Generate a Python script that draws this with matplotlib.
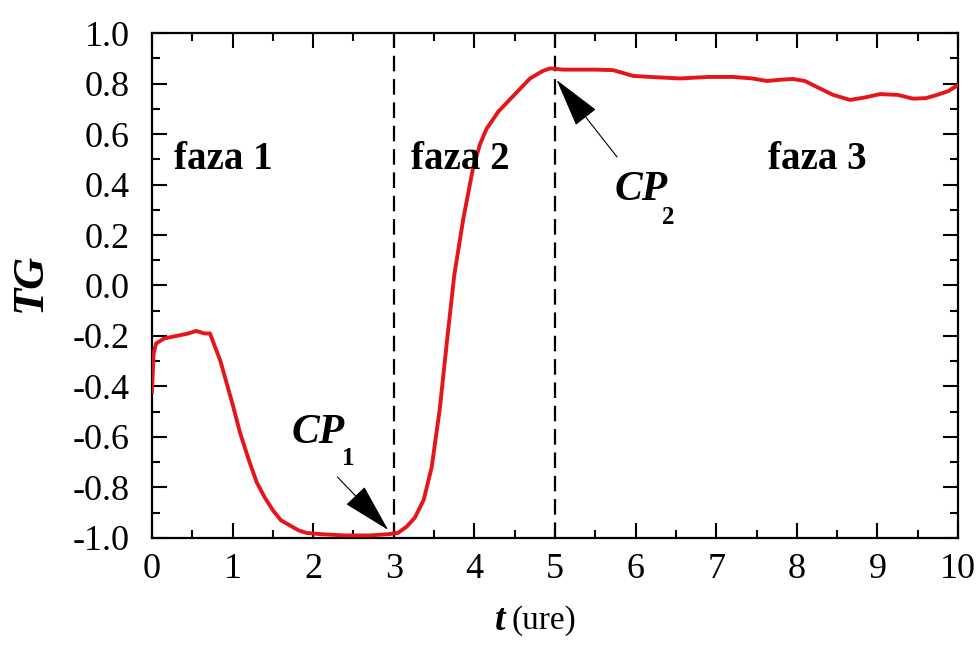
import matplotlib.pyplot as plt
from matplotlib.ticker import MultipleLocator

plt.rcParams['font.family'] = ['Liberation Serif', 'DejaVu Serif']

# TG curve over time (hours)
t_ure = [0.00, 0.02, 0.05, 0.15, 0.30, 0.45, 0.55, 0.65, 0.72, 0.85, 1.00, 1.09, 1.20,
         1.30, 1.40, 1.50, 1.60, 1.71, 1.82, 1.92, 2.10, 2.40, 2.70, 2.93, 3.05,
         3.16, 3.26, 3.37, 3.47, 3.57, 3.66, 3.75, 3.86, 3.98, 4.07, 4.15, 4.30,
         4.48, 4.69, 4.85, 4.94, 5.10, 5.31, 5.50, 5.72, 5.97, 6.18, 6.55, 6.90,
         7.21, 7.45, 7.63, 7.80, 7.95, 8.10, 8.25, 8.45, 8.66, 8.85, 9.03, 9.25,
         9.44, 9.60, 9.74, 9.88, 10.00]
tg = [-0.42, -0.27, -0.23, -0.21, -0.20, -0.19, -0.18, -0.19, -0.19, -0.30, -0.47, -0.58, -0.69,
      -0.78, -0.84, -0.89, -0.93, -0.95, -0.97, -0.98, -0.985, -0.99, -0.99, -0.985, -0.98,
      -0.955, -0.92, -0.85, -0.72, -0.49, -0.22, 0.04, 0.26, 0.46, 0.56, 0.62, 0.69,
      0.75, 0.82, 0.85, 0.86, 0.855, 0.855, 0.855, 0.853, 0.83, 0.826, 0.82, 0.826,
      0.826, 0.82, 0.81, 0.815, 0.818, 0.81, 0.786, 0.755, 0.735, 0.745, 0.758, 0.755,
      0.74, 0.742, 0.755, 0.77, 0.794]

# change points and phase labels
cp_x = [3, 5]
faze = ['faza 1', 'faza 2', 'faza 3']
faze_x = [0.89, 3.82, 8.26]
faze_y = 0.5

fig = plt.figure(figsize=(9.76, 6.46), dpi=100)
ax = fig.add_axes([0.1557, 0.1672, 0.8259, 0.7817])

ax.plot(t_ure, tg, color='#e4161b', lw=2.8, zorder=3)
for x in cp_x:
    ax.axvline(x, color='black', lw=1.6, ls=(0, (7, 3.5)), zorder=2)

for lab, x in zip(faze, faze_x):
    ax.text(x, faze_y, lab, fontsize=28, fontweight='bold', ha='center', va='center')

# CP1 arrow + label
arrow = dict(arrowstyle='-|>,head_length=1.6,head_width=0.42', color='black',
             lw=0.8, mutation_scale=20, shrinkA=0, shrinkB=0)
ax.annotate('', xy=(2.93, -0.968), xytext=(2.30, -0.758), arrowprops=arrow)
ax.text(2.06, -0.584, 'CP', fontsize=30, fontweight='bold', style='italic',
        ha='center', va='center')
ax.text(2.43, -0.685, '1', fontsize=18, fontweight='bold', ha='center', va='center')

# CP2 arrow + label
ax.annotate('', xy=(5.02, 0.814), xytext=(5.77, 0.509), arrowprops=arrow)
ax.text(6.07, 0.378, 'CP', fontsize=30, fontweight='bold', style='italic',
        ha='center', va='center')
ax.text(6.41, 0.268, '2', fontsize=18, fontweight='bold', ha='center', va='center')

ax.set_xlim(0, 10)
ax.set_ylim(-1, 1)
ax.xaxis.set_major_locator(MultipleLocator(1))
ax.xaxis.set_minor_locator(MultipleLocator(0.5))
ax.yaxis.set_major_locator(MultipleLocator(0.2))
ax.yaxis.set_minor_locator(MultipleLocator(0.1))
ax.yaxis.set_major_formatter(lambda v, p: f'{v:.1f}')
ax.tick_params(which='both', direction='in', top=True, right=True, width=1.5,
               labelsize=26)
ax.tick_params(which='major', length=11)
ax.tick_params(which='minor', length=6)
ax.tick_params(axis='x', pad=11)
ax.tick_params(axis='y', pad=16)
for s in ax.spines.values():
    s.set_linewidth(1.6)

# axis titles
fig.text(0.031, 0.563, 'TG', fontsize=32, fontweight='bold', style='italic',
         rotation=90, ha='center', va='center')
fig.text(0.518, 0.040, 't', fontsize=27, fontweight='bold', style='italic',
         ha='right', va='center')
fig.text(0.524, 0.040, '(ure)', fontsize=24, ha='left', va='center')

fig.savefig('out.png', dpi=100)
